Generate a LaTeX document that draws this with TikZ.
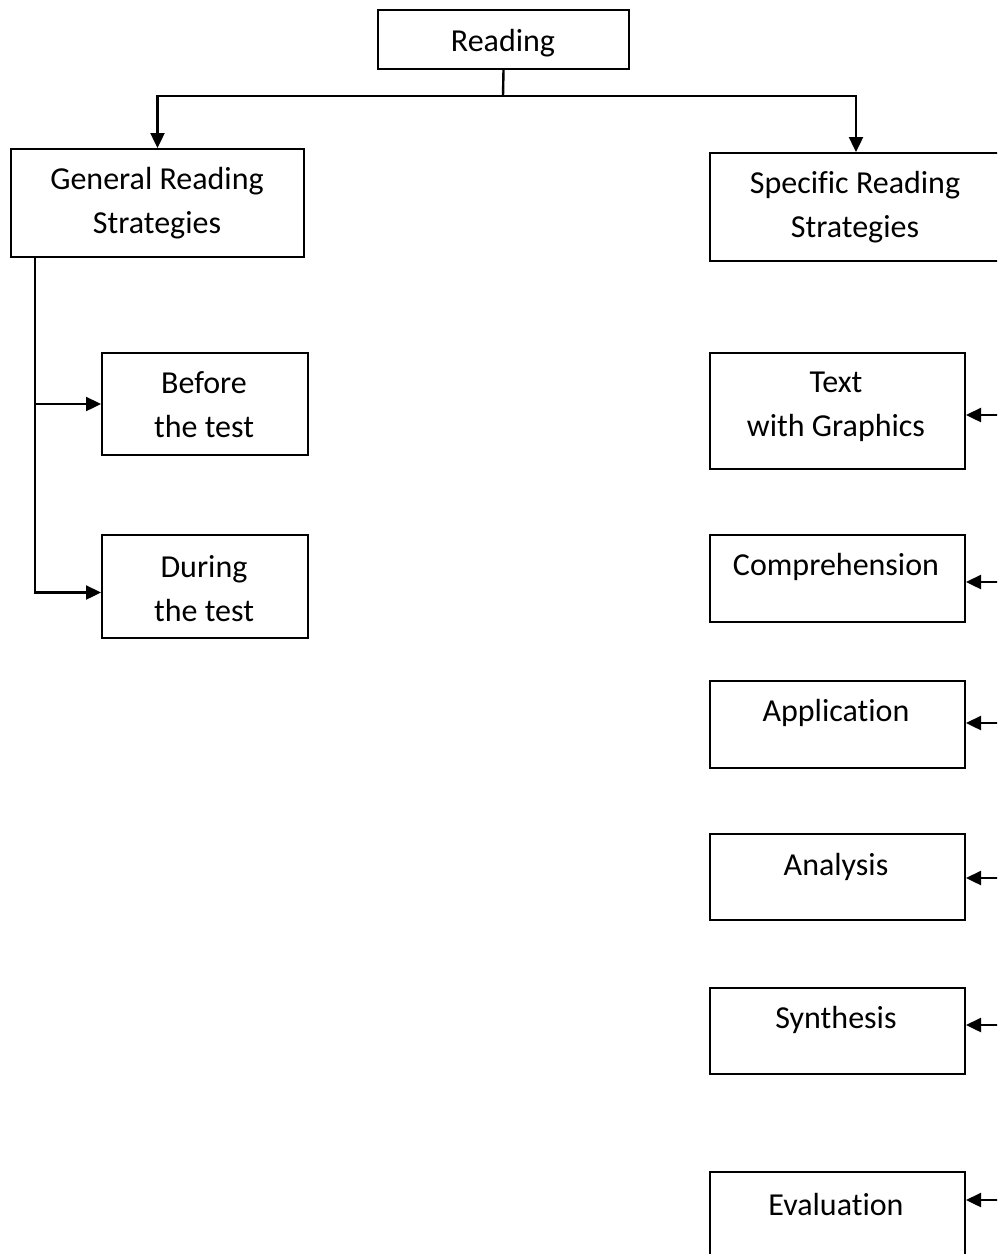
\documentclass[tikz,border=0pt]{standalone}
\usepackage{fontspec}
\setmainfont{Carlito}[Ligatures=CommonOff]
\usetikzlibrary{arrows.meta}
\begin{document}
\begin{tikzpicture}[x=1pt,y=-1pt,
  boxnode/.style={draw, line width=2pt, inner sep=0pt, anchor=north west},
  lbl/.style={font=\fontsize{32}{44}\selectfont, align=center, inner sep=0pt},
  conn/.style={line width=2.4pt},
  arr/.style={line width=2.4pt, -{Triangle[length=15pt,width=14pt]}}]
\useasboundingbox (0,0) rectangle (997,1254);
\clip (0,0) rectangle (997,1254);
% boxes
\node[boxnode, minimum width=251pt, minimum height=59pt] (read) at (377,9) {};
\node[boxnode, minimum width=293pt, minimum height=108pt] (gen) at (10,148) {};
\node[boxnode, minimum width=292pt, minimum height=108pt] (spec) at (709,152) {};
\node[boxnode, minimum width=206pt, minimum height=102pt] (bef) at (101,352) {};
\node[boxnode, minimum width=206pt, minimum height=103pt] (dur) at (101,534) {};
\node[boxnode, minimum width=255pt, minimum height=116pt] (txg) at (709,352) {};
\node[boxnode, minimum width=255pt, minimum height=87pt] (comp) at (709,534) {};
\node[boxnode, minimum width=255pt, minimum height=87pt] (app) at (709,680) {};
\node[boxnode, minimum width=255pt, minimum height=86pt] (ana) at (709,833) {};
\node[boxnode, minimum width=255pt, minimum height=86pt] (syn) at (709,987) {};
\node[boxnode, minimum width=255pt, minimum height=95pt] (eval) at (709,1171) {};
% labels
\node[lbl] (readT) at (503,43) {Reading};
\node[lbl] (genT) at (157,203) {General Reading\\Strategies};
\node[lbl] (specT) at (855,207) {Specific Reading\\Strategies};
\node[lbl] (befT) at (204,405) {Before\\the test};
\node[lbl] (durT) at (204,589) {During\\the test};
\node[lbl] (txgT) at (836,407) {Text\\with Graphics};
\node[lbl] (compT) at (836,567) {Comprehension};
\node[lbl] (appT) at (836,713) {Application};
\node[lbl] (anaT) at (836,867) {Analysis};
\node[lbl] (synT) at (836,1020) {Synthesis};
\node[lbl] (evalT) at (836,1204) {Evaluation};
% connectors
\coordinate (j) at (503,96);
\draw[conn] (read.south) -- (j);
\draw[arr] (j) -| (gen.north);
\draw[arr] (j) -| (spec.north);
\coordinate (trk) at (35,256);
\draw[arr] (trk) |- ([yshift=-6pt]dur.west);
\draw[arr] (trk |- bef.west) -- (bef.west);
\coordinate (e1) at (1002,415);
\coordinate (e2) at (1002,582);
\coordinate (e3) at (1002,723);
\coordinate (e4) at (1002,878);
\coordinate (e5) at (1002,1025);
\coordinate (e6) at (1002,1200);
\draw[arr] (e1) -- (txg.east |- e1);
\draw[arr] (e2) -- (comp.east |- e2);
\draw[arr] (e3) -- (app.east |- e3);
\draw[arr] (e4) -- (ana.east |- e4);
\draw[arr] (e5) -- (syn.east |- e5);
\draw[arr] (e6) -- (eval.east |- e6);
\end{tikzpicture}
\end{document}
